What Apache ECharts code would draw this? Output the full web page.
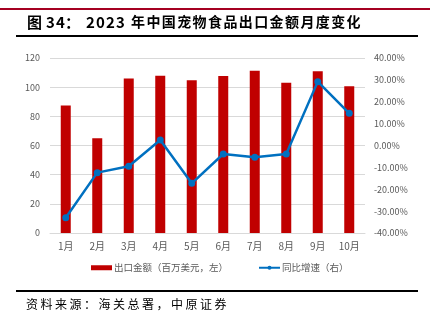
<!DOCTYPE html>
<html><head><meta charset="utf-8">
<script src="https://cdn.jsdelivr.net/npm/echarts@6/dist/echarts.min.js"></script>
<style>html,body{margin:0;padding:0;background:#fff}#c{width:430px;height:323px}</style>
</head><body><div id="c"></div>
<script>
const categories = ['1月','2月','3月','4月','5月','6月','7月','8月','9月','10月'];
const exportValues = [87.5, 65, 106, 107.8, 104.7, 107.6, 111.3, 103.1, 110.9, 100.6];
const yoyGrowth = [-33.0, -12.4, -9.5, 2.5, -17.3, -3.9, -5.4, -3.9, 29.2, 14.7];
const leftTicks = [0, 120, 20];
const rightTicks = [-40, 40, 10];
const titlePrefix = '图 34：2023 ';
const titleMain = '年中国宠物食品出口金额月度变化';
const sourceText = '资料来源：海关总署，中原证券';
const barName = '出口金额（百万美元，左）';
const lineName = '同比增速（右）';

const chart = echarts.init(document.getElementById('c'));
const font = '"Noto Sans CJK SC", "Noto Sans", sans-serif';

// spaced text helper (letter spacing emulation)
function spaced(str, x0, pitch, y, fontStr, fill) {
  return Array.from(str).map((ch, i) => ({
    type: 'text', x: x0 + i * pitch, y: y,
    style: {text: ch, font: fontStr, fill: fill, textVerticalAlign: 'middle'}
  }));
}
const prefixChars = [
  ['图', 27], ['3', 46], ['4', 56], ['：', 65], ['2', 86], ['0', 96], ['2', 106], ['3', 116]
];
const titleGraphics = prefixChars.map(([ch, x]) => ({
  type: 'text', x: x, y: 22,
  style: {text: ch, font: 'bold 15px ' + font, fill: '#000', textVerticalAlign: 'middle'}
})).concat(spaced(titleMain, 131, 15.4, 22, 'bold 14px ' + font, '#000'));

chart.setOption({
  animation: false,
  textStyle: {fontFamily: font},
  grid: {left: 50, right: 65, top: 58, bottom: 90},
  legend: {
    top: 263, left: 91, padding: 0, itemGap: 30, itemWidth: 21, itemHeight: 5,
    textStyle: {fontSize: 9.5, color: '#595959', fontFamily: font, padding: [0, 0, 0, -3]},
    data: [{name: barName, icon: 'rect'}, {name: lineName}]
  },
  xAxis: {
    type: 'category', data: categories,
    axisLine: {show: true, lineStyle: {color: '#d9d9d9'}},
    axisTick: {show: false},
    axisLabel: {color: '#595959', fontSize: 10, margin: 8}
  },
  yAxis: [{
    type: 'value', min: leftTicks[0], max: leftTicks[1], interval: leftTicks[2],
    axisLine: {show: false}, axisTick: {show: false},
    splitLine: {lineStyle: {color: '#d9d9d9'}},
    axisLabel: {color: '#595959', fontSize: 9, margin: 10}
  }, {
    type: 'value', min: rightTicks[0], max: rightTicks[1], interval: rightTicks[2],
    axisLine: {show: false}, axisTick: {show: false},
    splitLine: {show: false},
    axisLabel: {color: '#595959', fontSize: 9, margin: 9, formatter: v => v.toFixed(2) + '%'}
  }],
  series: [{
    name: barName, type: 'bar', data: exportValues, barWidth: 10,
    itemStyle: {color: '#C00000'}
  }, {
    name: lineName, type: 'line', yAxisIndex: 1, data: yoyGrowth,
    symbol: 'circle', symbolSize: 7,
    lineStyle: {color: '#0070C0', width: 2.5},
    itemStyle: {color: '#0070C0'}
  }],
  graphic: [
    {type: 'rect', shape: {x: 0, y: 8, width: 430, height: 2}, style: {fill: '#A50021'}},
    {type: 'rect', shape: {x: 16, y: 35, width: 402, height: 2}, style: {fill: '#000'}},
    {type: 'rect', shape: {x: 16, y: 290, width: 402, height: 2}, style: {fill: '#000'}}
  ].concat(titleGraphics).concat(spaced(sourceText, 26, 14.5, 304, '12px ' + font, '#000'))
});
</script></body></html>
